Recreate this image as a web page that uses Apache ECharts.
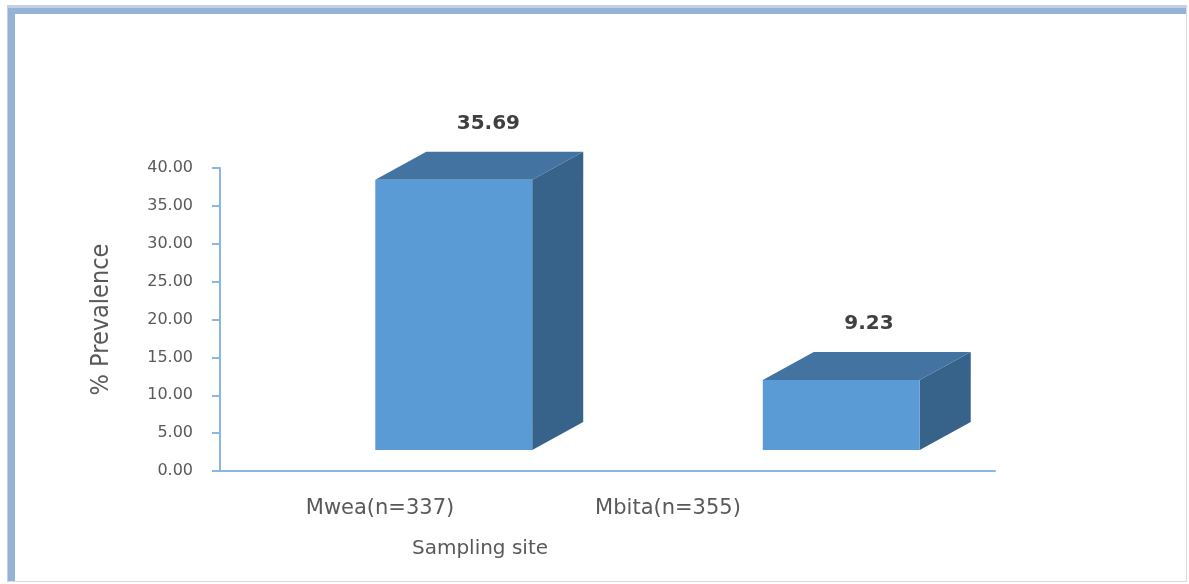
<!DOCTYPE html>
<html>
<head>
<meta charset="utf-8">
<script src="https://cdn.jsdelivr.net/npm/echarts@6/dist/echarts.min.js"></script>
<style>
  html, body { margin: 0; padding: 0; background: #ffffff; }
  #wrap { position: relative; width: 1189px; height: 584px; overflow: hidden; background: #ffffff; }
  /* framed panel: pale outer rule, blue band on top and left, grey rules right and bottom */
  #frame {
    position: absolute; left: 7px; top: 5px; width: 1180px; height: 577px;
    box-sizing: border-box;
    border-top: 3px solid #c6cfdf;
    border-left: 1px solid #c6cfdf;
    border-right: 1px solid #d9d9d9;
    border-bottom: 1px solid #d9d9d9;
  }
  #frame::before {
    content: ""; position: absolute; left: 0; top: 0; right: 0; bottom: 0;
    border-top: 6px solid #95b3d7;
    border-left: 7px solid #95b3d7;
  }
  #chart { position: absolute; left: 0; top: 0; width: 1189px; height: 584px; }
</style>
</head>
<body>
<div id="wrap">
  <div id="frame"></div>
  <div id="chart"></div>
</div>
<script>
// Prevalence by sampling site
const sites = ['Mwea(n=337)', 'Mbita(n=355)'];
const prevalence = [35.69, 9.23];
const yTicks = { min: 0, max: 40, step: 5 };

const FRONT = '#5b9bd5';
const TOP = '#4373a0';
const SIDE = '#37628a';

// 3D box: front face lifted off the floor, top and right side faces pushed back
function renderBox(params, api) {
  const i = api.value(0);
  const v = api.value(1);
  const pTop = api.coord([i, v]);
  const pBase = api.coord([i, 0]);
  const band = api.size([1, 0])[0];
  const w = band * 0.405;
  const cx = pTop[0] + 40;
  const lift = 21, dx = 51, dy = -28;
  const x0 = cx - w / 2, x1 = cx + w / 2;
  const y0 = pTop[1] - lift, y1 = pBase[1] - lift;
  return {
    type: 'group',
    children: [
      { type: 'polygon', shape: { points: [[x1, y0], [x1 + dx, y0 + dy], [x1 + dx, y1 + dy], [x1, y1]] },
        style: { fill: SIDE } },
      { type: 'polygon', shape: { points: [[x0, y0], [x0 + dx, y0 + dy], [x1 + dx, y0 + dy], [x1, y0]] },
        style: { fill: TOP } },
      { type: 'rect', shape: { x: x0, y: y0, width: w, height: y1 - y0 },
        style: { fill: FRONT } },
      { type: 'text', x: cx + 3, y: y0 - 56,
        style: { text: v.toFixed(2), fill: '#404040', font: 'bold 20px "DejaVu Sans"',
                 align: 'left', verticalAlign: 'middle' } }
    ]
  };
}

const chart = echarts.init(document.getElementById('chart'), null, { renderer: 'canvas' });
chart.setOption({
  animation: false,
  backgroundColor: 'transparent',
  title: {
    text: 'Sampling site',
    left: 475, top: 534, textAlign: 'center',
    textStyle: { fontFamily: 'DejaVu Sans', fontSize: 20, fontWeight: 'normal', color: '#595959' }
  },
  grid: [
    { left: 220, right: 194, top: 168, bottom: 113 },
    { left: 236, right: 377, top: 168, bottom: 113 }
  ],
  xAxis: [
    {
      type: 'category', gridIndex: 0, data: sites,
      axisLine: { show: true, lineStyle: { color: '#8ab6e1', width: 2 } },
      axisTick: { show: false },
      axisLabel: { show: false },
      splitLine: { show: false }
    },
    {
      type: 'category', gridIndex: 1, data: sites,
      axisLine: { show: false }, axisTick: { show: false },
      axisLabel: { show: true, margin: 27, color: '#595959', fontFamily: 'DejaVu Sans', fontSize: 21 },
      splitLine: { show: false }
    }
  ],
  yAxis: [
    {
      type: 'value', gridIndex: 0,
      min: yTicks.min, max: yTicks.max, interval: yTicks.step,
      name: '% Prevalence', nameLocation: 'middle', nameGap: 106, nameRotate: 90,
      nameTextStyle: { fontFamily: 'DejaVu Sans Condensed', fontSize: 25, color: '#595959' },
      axisLine: { show: true, lineStyle: { color: '#8ab6e1', width: 2 } },
      axisTick: { show: true, length: 8, lineStyle: { color: '#8ab6e1', width: 2 } },
      axisLabel: { margin: 27, color: '#595959', fontFamily: 'DejaVu Sans', fontSize: 16,
                   formatter: v => v.toFixed(2) },
      splitLine: { show: false }
    },
    {
      type: 'value', gridIndex: 1, show: false,
      min: yTicks.min, max: yTicks.max, interval: yTicks.step
    }
  ],
  series: [{
    type: 'custom',
    xAxisIndex: 0, yAxisIndex: 0,
    renderItem: renderBox,
    data: prevalence.map((v, i) => [i, v])
  }]
});
</script>
</body>
</html>
